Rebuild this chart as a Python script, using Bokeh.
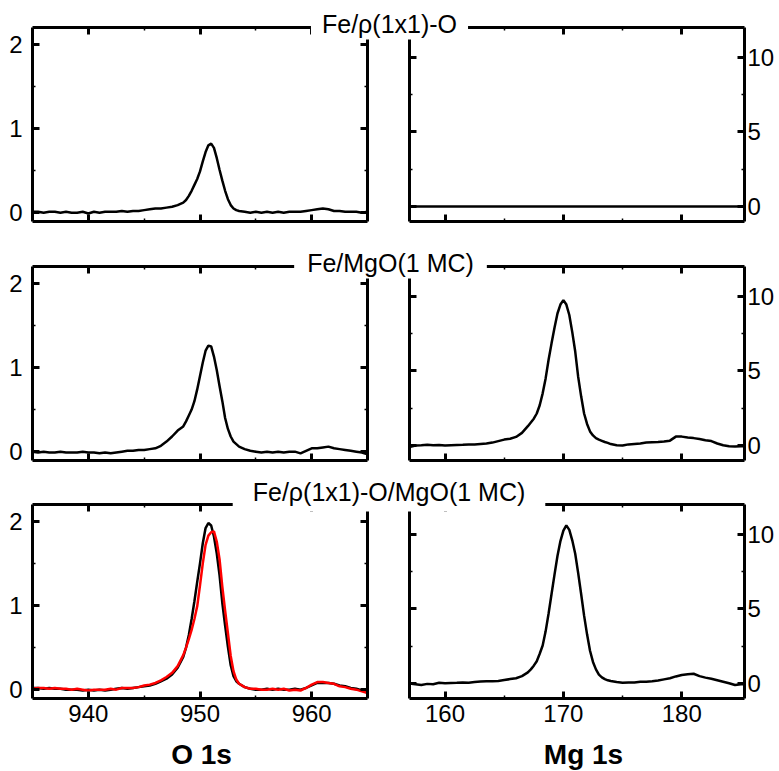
from bokeh.plotting import figure
from bokeh.models import Range1d, LinearAxis, FixedTicker, Label, GridBox, CustomJSTickFormatter
from bokeh.embed import file_html
from bokeh.resources import INLINE

# ---------------- data ----------------
titles = ["Fe/ρ(1x1)-O", "Fe/MgO(1 MC)", "Fe/ρ(1x1)-O/MgO(1 MC)"]
x_axis_labels = ["O 1s", "Mg 1s"]

o1s_ticks = [940, 950, 960]
o1s_minor = [945, 955]
o1s_yticks = [0, 1, 2]
o1s_yminor = [0.5, 1.5]
mg1s_ticks = [160, 170, 180]
mg1s_minor = [165, 175]
mg1s_yticks = [0, 5, 10]
mg1s_yminor = [2.5, 7.5]

o1s_energy = [935.0, 935.5, 936.0, 936.5, 937.0, 937.5, 938.0, 938.5, 939.0, 939.5,
              940.0, 940.5, 941.0, 941.5, 942.0, 942.5, 943.0, 943.5, 944.0, 944.5,
              945.0, 945.5, 946.0, 946.5, 947.0, 947.5, 948.0,
              948.5, 948.75, 949.0, 949.25, 949.5, 949.75, 950.0, 950.25, 950.5, 950.75,
              951.0, 951.25, 951.5, 951.75, 952.0, 952.25, 952.5, 952.75, 953.0, 953.25, 953.5,
              954.0, 954.5, 955.0, 955.5, 956.0, 956.5, 957.0, 957.5, 958.0, 958.5,
              959.0, 959.5, 960.0, 960.5, 961.0, 961.5, 962.0, 962.5, 963.0, 963.5,
              964.0, 964.5, 965.0]

o1s_fe_p1x1_o = [0.01, 0.01, 0.00, 0.01, 0.01, 0.00, 0.01, 0.00, 0.00, 0.01,
                 -0.01, 0.01, 0.00, 0.01, 0.01, 0.01, 0.02, 0.01, 0.02, 0.02,
                 0.03, 0.04, 0.05, 0.05, 0.06, 0.07, 0.09,
                 0.12, 0.15, 0.20, 0.26, 0.33, 0.40, 0.49, 0.61, 0.72, 0.80,
                 0.82, 0.77, 0.65, 0.51, 0.38, 0.26, 0.16, 0.09, 0.05, 0.03, 0.02,
                 0.01, 0.00, 0.01, 0.00, 0.01, 0.00, 0.01, 0.00, 0.01, 0.01,
                 0.01, 0.02, 0.03, 0.04, 0.05, 0.04, 0.02, 0.02, 0.01, 0.01,
                 0.01, 0.00, 0.01]

o1s_fe_mgo = [0.00, -0.01, 0.00, -0.01, -0.01, 0.00, -0.01, -0.01, -0.01, 0.00,
              -0.01, -0.01, -0.02, -0.01, -0.02, -0.01, 0.00, 0.01, 0.01, 0.02,
              0.02, 0.03, 0.04, 0.07, 0.12, 0.18, 0.25,
              0.30, 0.36, 0.43, 0.50, 0.60, 0.74, 0.90, 1.06, 1.20, 1.26,
              1.25, 1.13, 0.97, 0.78, 0.60, 0.40, 0.27, 0.18, 0.12, 0.09, 0.06,
              0.03, 0.01, 0.00, -0.01, 0.00, -0.01, 0.00, -0.01, 0.00, 0.00,
              -0.02, 0.01, 0.04, 0.04, 0.05, 0.06, 0.04, 0.03, 0.02, 0.01,
              0.00, -0.01, -0.03]

o1s_fe_p1x1_o_mgo = [0.02, 0.02, 0.01, 0.02, 0.01, 0.01, 0.00, 0.00, 0.00, -0.01,
                     0.00, -0.01, 0.00, -0.01, 0.00, 0.01, 0.02, 0.01, 0.02, 0.03,
                     0.04, 0.05, 0.07, 0.10, 0.13, 0.18, 0.26,
                     0.39, 0.50, 0.65, 0.84, 1.05, 1.28, 1.50, 1.74, 1.92, 1.98,
                     1.95, 1.82, 1.62, 1.36, 1.03, 0.76, 0.51, 0.29, 0.16, 0.10, 0.07,
                     0.03, 0.01, 0.00, 0.00, 0.01, 0.00, 0.01, 0.00, 0.00, 0.01,
                     0.00, 0.02, 0.05, 0.08, 0.08, 0.08, 0.07, 0.05, 0.04, 0.02,
                     0.01, -0.01, -0.03]

o1s_red_overlay = [0.01, 0.02, 0.02, 0.01, 0.02, 0.01, 0.01, 0.00, 0.01, 0.00,
                   -0.01, 0.00, 0.00, 0.00, 0.01, 0.00, 0.02, 0.02, 0.02, 0.03,
                   0.05, 0.06, 0.08, 0.11, 0.15, 0.20, 0.28,
                   0.41, 0.50, 0.60, 0.71, 0.84, 0.99, 1.24, 1.50, 1.72, 1.83,
                   1.87, 1.88, 1.76, 1.55, 1.22, 0.94, 0.67, 0.40, 0.22, 0.12, 0.07,
                   0.03, 0.01, 0.01, 0.00, 0.00, 0.01, 0.00, 0.01, -0.01, 0.00,
                   -0.01, 0.02, 0.06, 0.09, 0.09, 0.08, 0.07, 0.04, 0.03, 0.01,
                   0.00, -0.02, -0.04]

mg1s_energy = [157.0, 157.5, 158.0, 158.5, 159.0, 159.5, 160.0, 160.5, 161.0, 161.5,
               162.0, 162.5, 163.0, 163.5, 164.0, 164.5, 165.0, 165.5, 166.0, 166.5, 167.0,
               167.25, 167.5, 167.75, 168.0, 168.25, 168.5, 168.75, 169.0, 169.25, 169.5,
               169.75, 170.0, 170.25, 170.5, 170.75, 171.0, 171.25, 171.5, 171.75, 172.0,
               172.25, 172.5, 172.75, 173.0, 173.25, 173.5, 173.75, 174.0,
               174.5, 175.0, 175.5, 176.0, 176.5, 177.0, 177.5, 178.0, 178.5, 179.0,
               179.5, 180.0, 180.5, 181.0, 181.5, 182.0, 182.5, 183.0, 183.5, 184.0,
               184.5, 185.0, 185.5]

mg1s_flat_energy = [157.0, 185.5]
mg1s_fe_p1x1_o = [0.0, 0.0]

mg1s_fe_mgo = [-0.09, 0.00, 0.02, 0.05, 0.02, 0.04, 0.00, 0.03, 0.04, 0.05,
               0.07, 0.08, 0.11, 0.14, 0.20, 0.30, 0.40, 0.46, 0.58, 0.85, 1.30,
               1.55, 1.80, 2.15, 2.70, 3.50, 4.50, 5.75, 6.85, 7.90, 8.85,
               9.45, 9.75, 9.45, 8.75, 7.60, 6.30, 4.60, 3.30, 2.15, 1.45,
               0.95, 0.68, 0.50, 0.40, 0.32, 0.24, 0.18, 0.10,
               0.02, 0.00, 0.08, 0.11, 0.14, 0.20, 0.22, 0.24, 0.27, 0.33,
               0.60, 0.60, 0.54, 0.50, 0.44, 0.36, 0.30, 0.14, 0.02, -0.05,
               -0.07, -0.05, -0.05]

mg1s_fe_p1x1_o_mgo = [0.00, -0.05, -0.10, -0.02, -0.04, 0.05, 0.02, 0.04, 0.05, 0.08,
                      0.06, 0.10, 0.14, 0.16, 0.16, 0.18, 0.24, 0.30, 0.36, 0.50, 0.75,
                      0.95, 1.20, 1.50, 2.00, 2.55, 3.50, 4.70, 6.00, 7.30, 8.55,
                      9.55, 10.25, 10.60, 10.30, 9.60, 8.70, 7.40, 6.00, 4.55, 3.30,
                      2.20, 1.45, 0.95, 0.60, 0.42, 0.30, 0.22, 0.17,
                      0.10, 0.06, 0.08, 0.07, 0.12, 0.13, 0.16, 0.20, 0.28, 0.36,
                      0.48, 0.58, 0.62, 0.66, 0.50, 0.40, 0.32, 0.22, 0.12, 0.02,
                      -0.10, -0.05, -0.05]

# ---------------- layout ----------------
W, H = 779, 771
FONT = "Liberation Sans"
FRAME_W, FRAME_H = 335, 194
COL_LEFT = [32, 409]
ROW_TOP = [27, 266, 504]
O1S_XR, O1S_YR = (935.0, 965.0), (-0.105, 2.2)
MG_XR, MG_YR = (157.0, 185.3), (-1.0, 12.0)

AX_W = 3


def make_axis(ticks, minor, labels, standoff):
    ax = LinearAxis(ticker=FixedTicker(ticks=ticks, minor_ticks=minor))
    ax.axis_line_width = AX_W
    ax.axis_line_color = "black"
    ax.major_tick_in = 7
    ax.major_tick_out = 0
    ax.major_tick_line_width = AX_W
    ax.minor_tick_in = 3
    ax.minor_tick_out = 0
    ax.minor_tick_line_width = 1.5
    ax.major_label_text_font = FONT
    ax.major_label_text_font_size = "24px"
    ax.major_label_text_color = "black"
    ax.major_label_standoff = standoff
    if not labels:
        ax.formatter = CustomJSTickFormatter(code="return ''")
        ax.major_label_standoff = 0
    return ax


def make_panel(col, row, is_o1s, series):
    left = COL_LEFT[col]
    top = ROW_TOP[row]
    xr, yr = (O1S_XR, O1S_YR) if is_o1s else (MG_XR, MG_YR)
    p = figure(width=W, height=H, output_backend="svg", toolbar_location=None,
               x_range=Range1d(*xr), y_range=Range1d(*yr),
               x_axis_location=None, y_axis_location=None,
               min_border_left=left, min_border_right=W - left - FRAME_W,
               min_border_top=top, min_border_bottom=H - top - FRAME_H,
               background_fill_alpha=0, border_fill_alpha=0, outline_line_color=None,
               frame_align=False)
    p.grid.visible = False
    xt, xm = (o1s_ticks, o1s_minor) if is_o1s else (mg1s_ticks, mg1s_minor)
    yt, ym = (o1s_yticks, o1s_yminor) if is_o1s else (mg1s_yticks, mg1s_yminor)
    p.add_layout(make_axis(xt, xm, row == 2, 6), "below")
    p.add_layout(make_axis(xt, xm, False, 0), "above")
    p.add_layout(make_axis(yt, ym, is_o1s, 10), "left")
    p.add_layout(make_axis(yt, ym, not is_o1s, 3), "right")
    for xs, ys, color in series:
        p.line(xs, ys, line_color=color, line_width=2.5)
    return p


panels = [
    make_panel(0, 0, True, [(o1s_energy, o1s_fe_p1x1_o, "black")]),
    make_panel(1, 0, False, [(mg1s_flat_energy, mg1s_fe_p1x1_o, "black")]),
    make_panel(0, 1, True, [(o1s_energy, o1s_fe_mgo, "black")]),
    make_panel(1, 1, False, [(mg1s_energy, mg1s_fe_mgo, "black")]),
    make_panel(0, 2, True, [(o1s_energy, o1s_fe_p1x1_o_mgo, "black"),
                            (o1s_energy, o1s_red_overlay, "#ff0000")]),
    make_panel(1, 2, False, [(mg1s_energy, mg1s_fe_p1x1_o_mgo, "black")]),
]

# overlay carrying the row titles (white boxes interrupt the top borders) and axis titles
ov = figure(width=W, height=H, output_backend="svg", toolbar_location=None,
            x_range=Range1d(0, W), y_range=Range1d(H, 0),
            x_axis_location=None, y_axis_location=None, min_border=0,
            background_fill_alpha=0, border_fill_alpha=0, outline_line_color=None,
            frame_align=False)
ov.grid.visible = False
title_pos = [(389, 24, 11, 2), (390, 263, 13, 2), (388.5, 494, 20, 6)]
for text, (cx, cy, padx, padb) in zip(titles, title_pos):
    ov.add_layout(Label(x=cx, y=cy, text=text, text_align="center",
                        text_baseline="middle", text_font=FONT,
                        text_font_size="25px", text_color="black",
                        background_fill_color="white", background_fill_alpha=1.0,
                        padding=dict(left=padx, right=padx, top=0, bottom=padb)))
for text, cx in zip(x_axis_labels, [201, 583]):
    ov.add_layout(Label(x=cx, y=754, text=text, text_align="center",
                        text_baseline="middle", text_font=FONT,
                        text_font_size="28px", text_font_style="bold",
                        text_color="black"))

layout = GridBox(children=[(p, 0, 0) for p in panels] + [(ov, 0, 0)])

open("out.html", "w").write(file_html(layout, INLINE))
